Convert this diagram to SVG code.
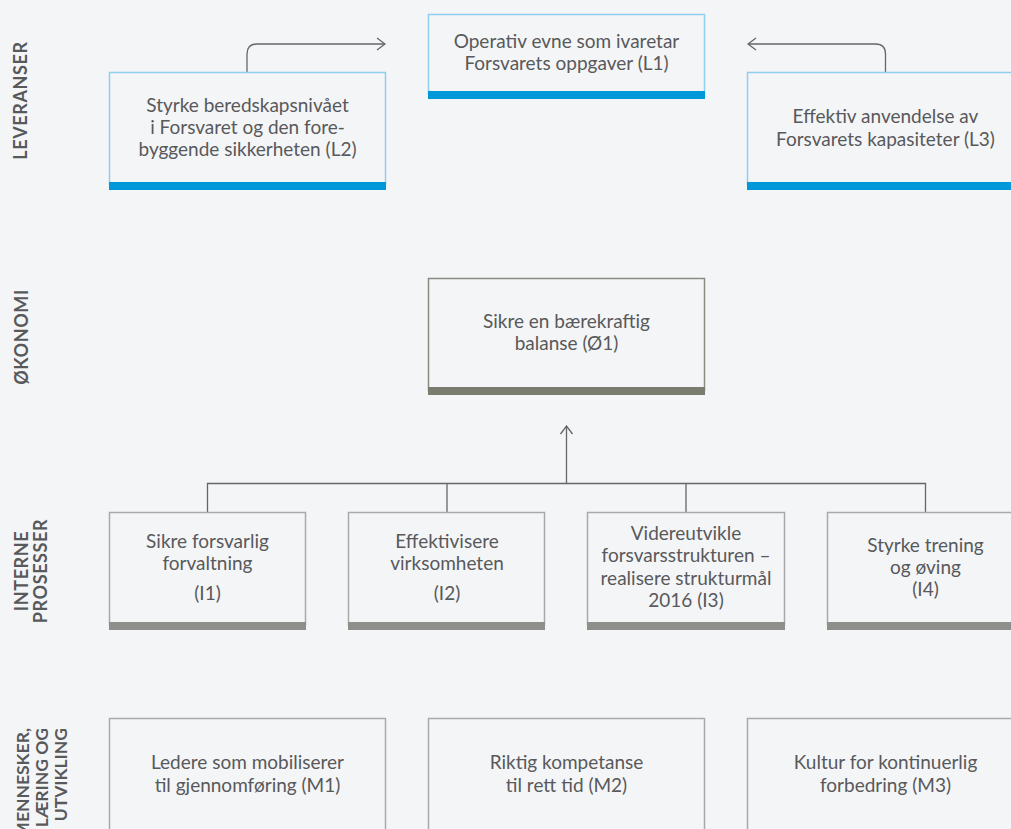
<svg xmlns="http://www.w3.org/2000/svg" width="1011" height="829" viewBox="0 0 1011 829">
<defs>
<style>
.bg{fill:#f4f5f7}
.t{font-family:Lato,"Open Sans","Liberation Sans",sans-serif;font-size:19px;fill:#58595b;text-anchor:middle}
.lab{font-family:Lato,"Open Sans","Liberation Sans",sans-serif;font-size:18px;font-weight:bold;fill:#58595b;letter-spacing:0.6px}
.lab2{font-family:Lato,"Open Sans","Liberation Sans",sans-serif;font-size:17.5px;font-weight:bold;fill:#58595b;text-anchor:end}
.bb{fill:none;stroke:#8ecfef;stroke-width:1.5}
.bbar{fill:#0098d8}
.gb{fill:none;stroke:#a9aaa6;stroke-width:1.5}
.gbar{fill:#8e8f8a}
.obar{fill:#7a7c70}
.ob{fill:none;stroke:#8a8c84;stroke-width:1.5}
.c{fill:none;stroke:#666666;stroke-width:1.3}
</style>
<marker id="ah" viewBox="0 0 10 14" refX="9" refY="7" markerWidth="10" markerHeight="14" markerUnits="userSpaceOnUse" orient="auto">
<path d="M1,1 L9,7 L1,13" fill="none" stroke="#666666" stroke-width="1.3"/>
</marker>
</defs>
<rect class="bg" x="0" y="0" width="1011" height="829"/>

<g id="labels">
<text class="lab" transform="translate(26.5,100.5) rotate(-90)" text-anchor="middle">LEVERANSER</text>
<text class="lab" transform="translate(28,337) rotate(-90)" text-anchor="middle">ØKONOMI</text>
<text class="lab" transform="translate(28,571) rotate(-90)" text-anchor="middle">INTERNE</text>
<text class="lab" transform="translate(47,571) rotate(-90)" text-anchor="middle">PROSESSER</text>
<text class="lab2" transform="translate(29,728) rotate(-90)">MENNESKER,</text>
<text class="lab2" transform="translate(48,728) rotate(-90)">LÆRING OG</text>
<text class="lab2" transform="translate(67,728) rotate(-90)">UTVIKLING</text>
</g>

<g id="connectors">
<path class="c" d="M247,72 V54 Q247,44 257,44 H385" marker-end="url(#ah)"/>
<path class="c" d="M885.5,72 V54 Q885.5,44 875.5,44 H748" marker-end="url(#ah)"/>
<path class="c" d="M207.5,512 V483.5 H925.5 V512 M447,483.5 V512 M686,483.5 V512"/>
<path class="c" d="M566.5,483.5 V426" marker-end="url(#ah)"/>
</g>

<g id="L1">
<rect class="bb" x="428.5" y="14.5" width="276" height="80"/>
<rect class="bbar" x="428" y="91" width="277" height="8"/>
<text class="t" x="566.5" y="48">Operativ evne som ivaretar</text>
<text class="t" x="566.5" y="70">Forsvarets oppgaver (L1)</text>
</g>
<g id="L2">
<rect class="bb" x="109.5" y="72.5" width="276" height="112"/>
<rect class="bbar" x="109" y="182" width="277" height="8"/>
<text class="t" x="247.5" y="112">Styrke beredskapsnivået</text>
<text class="t" x="247.5" y="134">i Forsvaret og den fore-</text>
<text class="t" x="247.5" y="156">byggende sikkerheten (L2)</text>
</g>
<g id="L3">
<rect class="bb" x="747.5" y="72.5" width="276" height="112"/>
<rect class="bbar" x="747" y="182" width="277" height="8"/>
<text class="t" x="885.5" y="123">Effektiv anvendelse av</text>
<text class="t" x="885.5" y="146">Forsvarets kapasiteter (L3)</text>
</g>

<g id="O1">
<rect class="ob" x="428.5" y="278.5" width="276" height="112"/>
<rect class="obar" x="428" y="387" width="277" height="8"/>
<text class="t" x="566.5" y="328">Sikre en bærekraftig</text>
<text class="t" x="566.5" y="350">balanse (Ø1)</text>
</g>

<g id="I1">
<rect class="gb" x="109.5" y="512.5" width="196" height="112"/>
<rect class="gbar" x="109" y="622" width="197" height="8"/>
<text class="t" x="207.5" y="548">Sikre forsvarlig</text>
<text class="t" x="207.5" y="570">forvaltning</text>
<text class="t" x="207.5" y="600">(I1)</text>
</g>
<g id="I2">
<rect class="gb" x="348.5" y="512.5" width="196" height="112"/>
<rect class="gbar" x="348" y="622" width="197" height="8"/>
<text class="t" x="447" y="548">Effektivisere</text>
<text class="t" x="447" y="570">virksomheten</text>
<text class="t" x="447" y="600">(I2)</text>
</g>
<g id="I3">
<rect class="gb" x="587.5" y="512.5" width="197" height="112"/>
<rect class="gbar" x="587" y="622" width="198" height="8"/>
<text class="t" x="686" y="540">Videreutvikle</text>
<text class="t" x="686" y="562">forsvarsstrukturen –</text>
<text class="t" x="686" y="585">realisere strukturmål</text>
<text class="t" x="686" y="607">2016 (I3)</text>
</g>
<g id="I4">
<rect class="gb" x="827.5" y="512.5" width="196" height="112"/>
<rect class="gbar" x="827" y="622" width="197" height="8"/>
<text class="t" x="925.5" y="552">Styrke trening</text>
<text class="t" x="925.5" y="574">og øving</text>
<text class="t" x="925.5" y="596">(I4)</text>
</g>

<g id="M1">
<rect class="gb" x="109.5" y="718.5" width="276" height="140"/>
<text class="t" x="247.5" y="769">Ledere som mobiliserer</text>
<text class="t" x="247.5" y="792">til gjennomføring (M1)</text>
</g>
<g id="M2">
<rect class="gb" x="428.5" y="718.5" width="276" height="140"/>
<text class="t" x="566.5" y="769">Riktig kompetanse</text>
<text class="t" x="566.5" y="792">til rett tid (M2)</text>
</g>
<g id="M3">
<rect class="gb" x="747.5" y="718.5" width="276" height="140"/>
<text class="t" x="885.5" y="769">Kultur for kontinuerlig</text>
<text class="t" x="885.5" y="792">forbedring (M3)</text>
</g>
</svg>
